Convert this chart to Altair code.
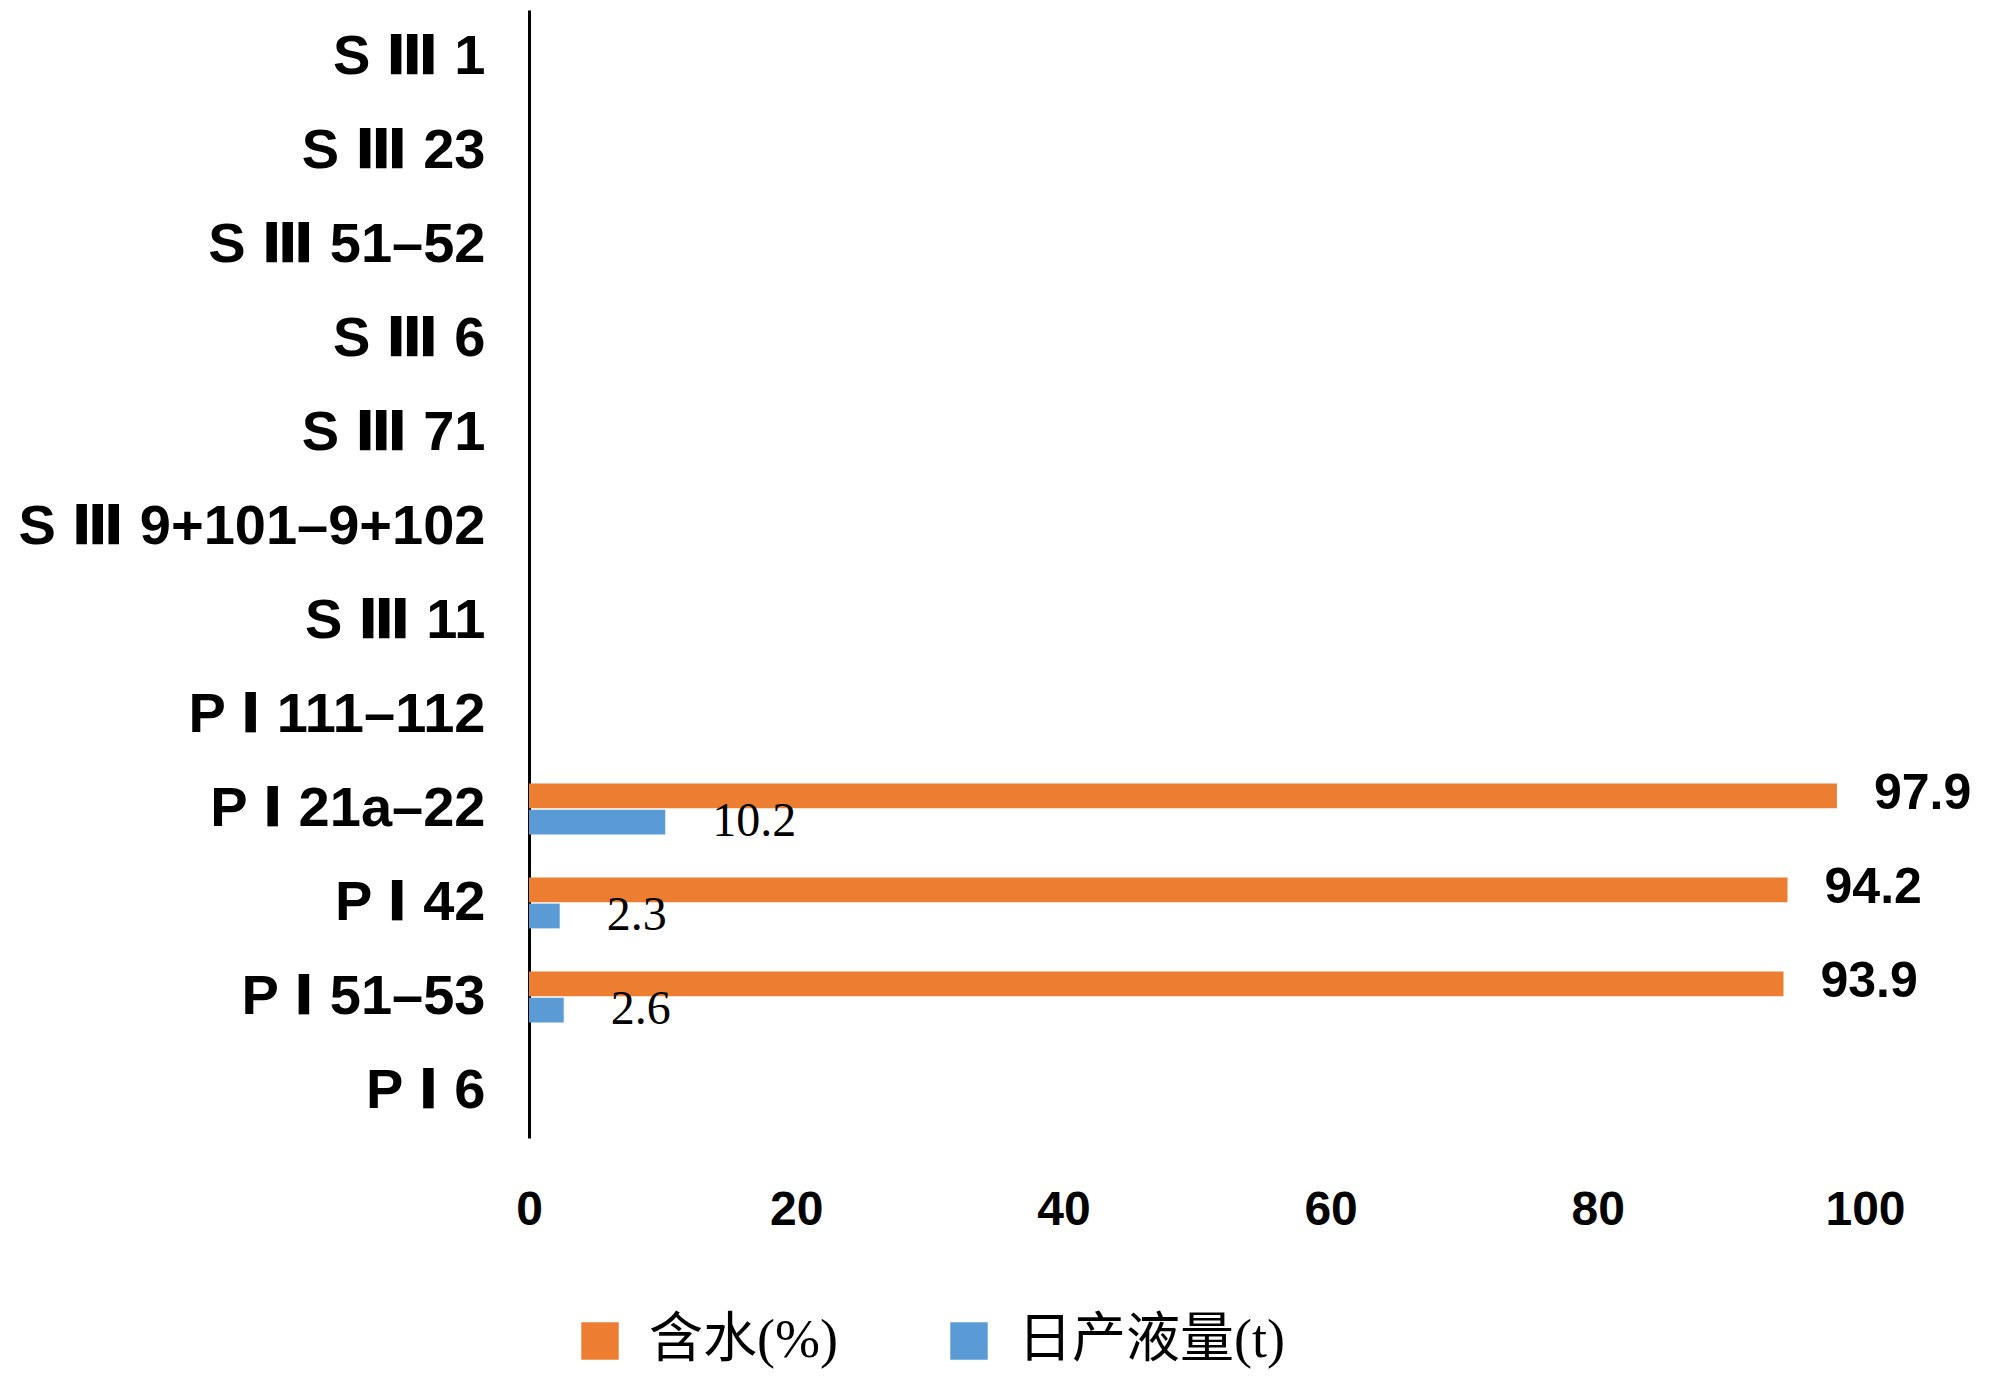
import altair as alt
import pandas as pd

categories = ["S Ⅲ 1", "S Ⅲ 23", "S Ⅲ 51–52", "S Ⅲ 6", "S Ⅲ 71", "S Ⅲ 9+101–9+102",
              "S Ⅲ 11", "P Ⅰ 111–112", "P Ⅰ 21a–22", "P Ⅰ 42", "P Ⅰ 51–53", "P Ⅰ 6"]
water_cut = [None, None, None, None, None, None, None, None, 97.9, 94.2, 93.9, None]
daily_liquid = [None, None, None, None, None, None, None, None, 10.2, 2.3, 2.6, None]
series_names = ["含水(%)", "日产液量(t)"]
series_colors = ["#ED7D31", "#5B9BD5"]
x_ticks = [0, 20, 40, 60, 80, 100]

rows = []
for c, w, d in zip(categories, water_cut, daily_liquid):
    if w is not None:
        rows.append({"cat": c, "series": series_names[0], "value": w, "label": f"{w:.1f}"})
    if d is not None:
        rows.append({"cat": c, "series": series_names[1], "value": d, "label": f"{d:.1f}"})
df = pd.DataFrame(rows)

y_enc = alt.Y("cat:N", sort=categories,
              scale=alt.Scale(domain=categories, paddingInner=0.46, paddingOuter=0.23),
              axis=alt.Axis(title=None, labelFont="Liberation Sans, DejaVu Sans, Noto Sans CJK SC",
                            labelFontSize=56, labelFontWeight="bold", labelColor="black",
                            ticks=False, domainColor="black", domainWidth=3,
                            labelPadding=44, labelLimit=0))
yoff_enc = alt.YOffset("series:N", sort=series_names,
                       scale=alt.Scale(domain=series_names, paddingInner=0.05))
x_enc = alt.X("value:Q", scale=alt.Scale(domain=[0, 100], nice=False),
              axis=alt.Axis(values=x_ticks, title=None, grid=False, domain=False, ticks=False,
                            labelFont="Liberation Sans Narrow, Liberation Sans",
                            labelFontSize=48, labelFontWeight="bold", labelColor="black",
                            labelPadding=48, labelFlush=False))

base = alt.Chart(df)

bars = base.mark_bar().encode(
    y=y_enc, yOffset=yoff_enc, x=x_enc,
    color=alt.Color("series:N", sort=series_names,
                    scale=alt.Scale(domain=series_names, range=series_colors),
                    legend=alt.Legend(title=None, orient="none", legendX=44, legendY=1304,
                                      direction="horizontal", symbolType="square",
                                      symbolSize=1400, symbolStrokeWidth=0,
                                      labelFont="Liberation Serif, Noto Sans CJK SC",
                                      labelFontSize=54, labelColor="black", labelOffset=22,
                                      columnPadding=104, labelLimit=0))
)

orange_text = base.transform_filter(alt.datum.series == series_names[0]).mark_text(
    align="left", baseline="middle", dx=37, dy=-2,
    font="Liberation Sans Narrow, Liberation Sans", fontSize=50, fontWeight="bold", color="black"
).encode(y=y_enc, yOffset=yoff_enc, x=x_enc, text="label:N")

blue_text = base.transform_filter(alt.datum.series == series_names[1]).mark_text(
    align="left", baseline="middle", dx=47, dy=0,
    font="Liberation Serif", fontSize=48, color="black"
).encode(y=y_enc, yOffset=yoff_enc, x=x_enc, text="label:N")

chart = alt.layer(bars, orange_text, blue_text).properties(
    width=1336, height=1128,
    autosize=alt.AutoSizeParams(type="none"),
    padding={"left": 521, "top": 2, "right": 127, "bottom": 237},
    background="white"
).configure_view(stroke=None)

chart.save("out.html", embed_options={"renderer": "svg", "actions": False})
